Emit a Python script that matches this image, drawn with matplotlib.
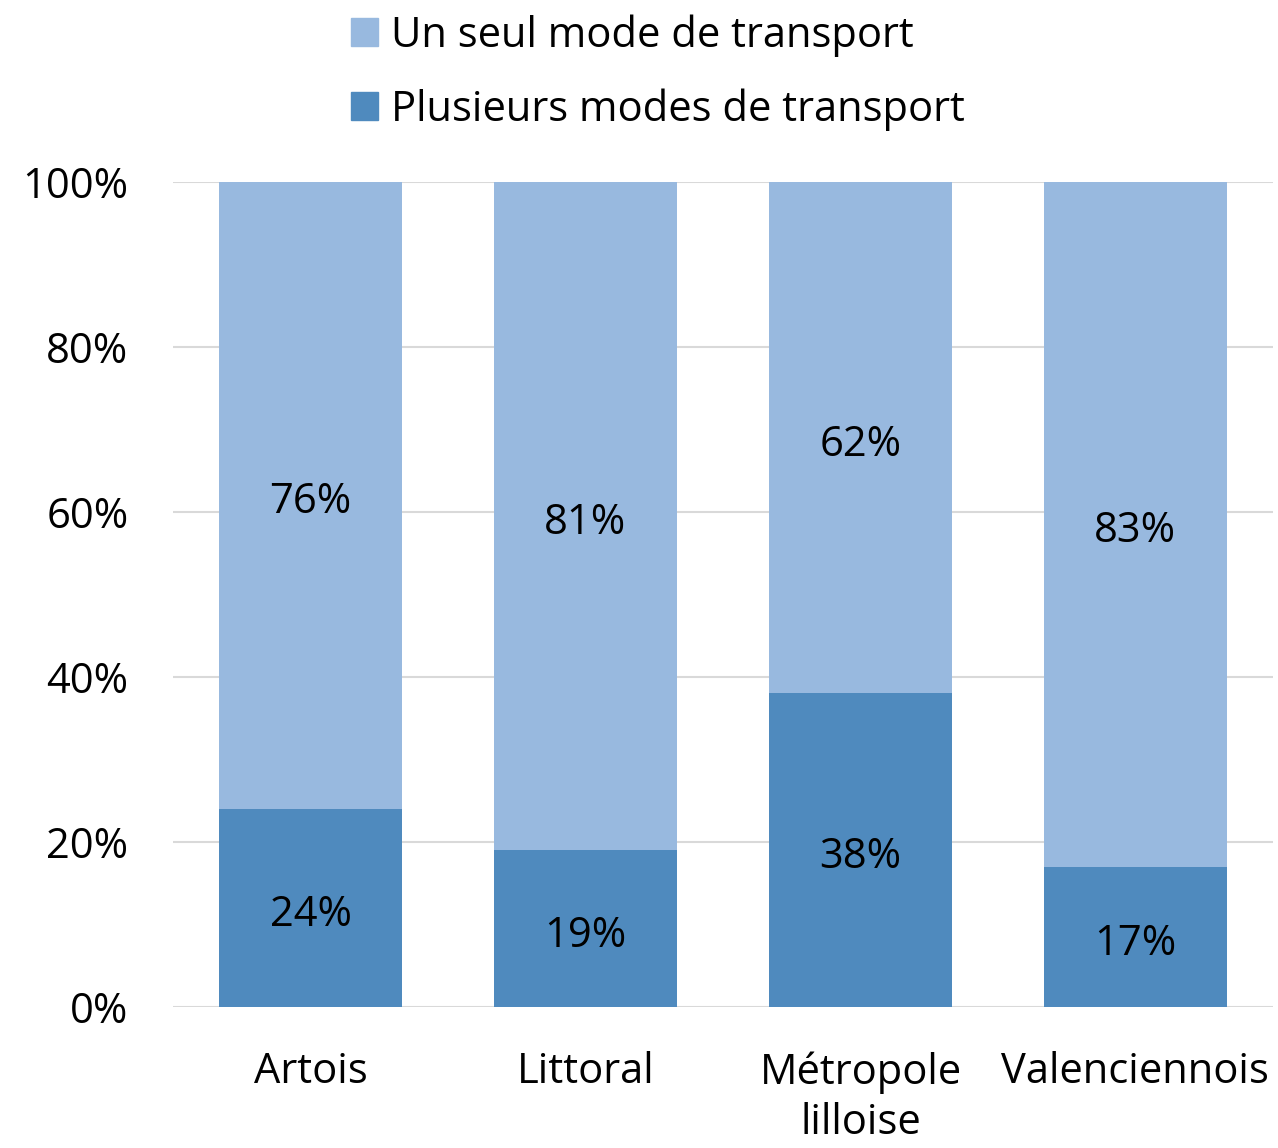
import matplotlib
matplotlib.use("Agg")
import matplotlib.pyplot as plt
from matplotlib.patches import Patch

categories = ["Artois", "Littoral", "Métropole\nlilloise", "Valenciennois"]
plusieurs = [24, 19, 38, 17]
seul = [76, 81, 62, 83]
series_names = ["Un seul mode de transport", "Plusieurs modes de transport"]
yticks = [0, 20, 40, 60, 80, 100]

c_light = "#98B9DF"
c_dark = "#4F8ABE"

plt.rcParams['font.family'] = ['Open Sans', 'DejaVu Sans']
FS = 30

fig = plt.figure(figsize=(12.78, 11.48), dpi=100)
ax = fig.add_axes([0.1354, 0.1228, 0.8606, 0.7187])

x = range(len(categories))
w = 0.665
ax.bar(x, plusieurs, width=w, color=c_dark, zorder=3)
ax.bar(x, seul, width=w, bottom=plusieurs, color=c_light, zorder=3)

for i in x:
    ax.annotate(f"{plusieurs[i]}%", (i, plusieurs[i] / 2), xytext=(0, -5), textcoords="offset points",
                ha="center", va="center", fontsize=FS, color="black", zorder=4)
    ax.annotate(f"{seul[i]}%", (i, plusieurs[i] + seul[i] / 2), xytext=(0, -5), textcoords="offset points",
                ha="center", va="center", fontsize=FS, color="black", zorder=4)

ax.set_xlim(-0.5, len(categories) - 0.5)
ax.set_ylim(0, 100)
ax.set_yticks(yticks)
ax.set_yticklabels([f"{t}%" for t in yticks], fontsize=FS)
ax.set_xticks(list(x))
ax.set_xticklabels(categories, fontsize=FS, linespacing=1.25)
ax.tick_params(axis="both", length=0)
ax.tick_params(axis="x", pad=32)
ax.tick_params(axis="y", pad=32)
for s in ax.spines.values():
    s.set_visible(False)
ax.yaxis.grid(True, color="#D9D9D9", linewidth=1.5, zorder=0)
ax.set_axisbelow(True)

handles = [Patch(color=c_light), Patch(color=c_dark)]
fig.legend(handles, series_names, loc="upper left", bbox_to_anchor=(0.2453, 1.02),
           frameon=False, fontsize=FS, handlelength=0.65, handleheight=0.65,
           handletextpad=0.3, labelspacing=0.75)

fig.savefig("out.png", dpi=100)
